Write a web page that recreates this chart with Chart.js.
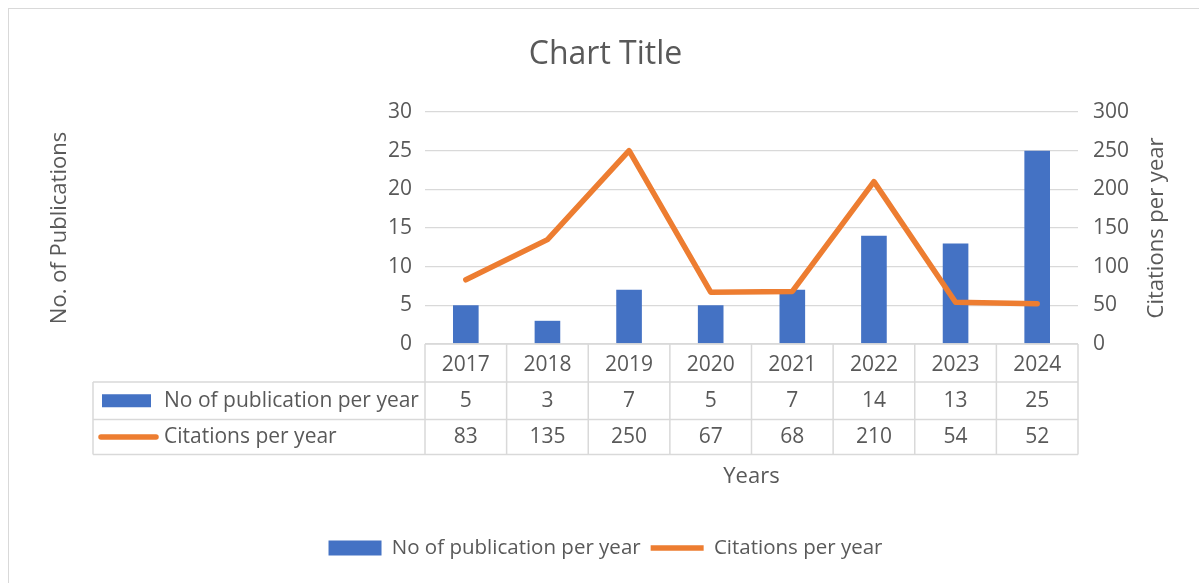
<!DOCTYPE html>
<html>
<head>
<meta charset="utf-8">
<script src="https://cdn.jsdelivr.net/npm/chart.js@4.4.1/dist/chart.umd.min.js"></script>
<style>
  html, body { margin: 0; padding: 0; background: #fff; overflow: hidden; }
  #frame { position: absolute; left: 8px; top: 8px; width: 1400px; height: 800px; border: 1px solid #d9d9d9; }
  #wrap { position: absolute; left: 0; top: 0; width: 1199px; height: 583px; }
</style>
</head>
<body>
<div id="frame"></div>
<div id="wrap"><canvas id="chart"></canvas></div>
<script>
const years = ['2017', '2018', '2019', '2020', '2021', '2022', '2023', '2024'];
const publications = [5, 3, 7, 5, 7, 14, 13, 25];
const citations = [83, 135, 250, 67, 68, 210, 54, 52];
const pubLabel = 'No of publication per year';
const citLabel = 'Citations per year';

const BLUE = '#4472C4';
const ORANGE = '#ED7D31';
const GREY = '#595959';
const LINE = '#d9d9d9';

Chart.defaults.font.family = '"Open Sans"';
Chart.defaults.color = GREY;

// tableau de données sous le graphique + titre de l'axe droit
const dataTable = {
    id: 'dataTable',
    afterDraw(chart) {
        const { ctx, chartArea: a, scales: { x } } = chart;
        const n = years.length;
        const cw = (a.right - a.left) / n;
        const top = a.bottom;
        const r1 = top + 38, r2 = r1 + 37.5, r3 = r2 + 35;
        const tableLeft = 93;

        ctx.save();
        ctx.strokeStyle = LINE;
        ctx.lineWidth = 1.5;
        ctx.beginPath();
        ctx.moveTo(a.left, top); ctx.lineTo(a.right, top);
        [r1, r2, r3].forEach(yy => { ctx.moveTo(tableLeft, yy); ctx.lineTo(a.right, yy); });
        for (let i = 0; i <= n; i++) {
            const xx = a.left + i * cw;
            ctx.moveTo(xx, top); ctx.lineTo(xx, r3);
        }
        ctx.moveTo(tableLeft, r1); ctx.lineTo(tableLeft, r3);
        ctx.stroke();

        ctx.fillStyle = GREY;
        ctx.font = '21px "Open Sans"';
        ctx.textAlign = 'center';
        ctx.textBaseline = 'middle';
        const m1 = (r1 + r2) / 2, m2 = (r2 + r3) / 2;
        years.forEach((y, i) => {
            const px = x.getPixelForValue(i);
            ctx.fillText(String(publications[i]), px, m1);
            ctx.fillText(String(citations[i]), px, m2);
        });

        // clés de légende dans le tableau
        ctx.fillStyle = BLUE;
        ctx.fillRect(tableLeft + 9, m1 - 6.5, 49, 13);
        ctx.strokeStyle = ORANGE;
        ctx.lineWidth = 5.5;
        ctx.lineCap = 'round';
        ctx.beginPath();
        ctx.moveTo(tableLeft + 8, m2); ctx.lineTo(tableLeft + 63, m2);
        ctx.stroke();

        ctx.fillStyle = GREY;
        ctx.textAlign = 'left';
        ctx.fillText(pubLabel, tableLeft + 71, m1);
        ctx.fillText(citLabel, tableLeft + 71, m2);

        // titre de l'axe secondaire, tourné comme dans Excel
        ctx.font = '22px "Open Sans"';
        ctx.textAlign = 'center';
        ctx.translate(1157, (a.top + a.bottom) / 2);
        ctx.rotate(-Math.PI / 2);
        ctx.fillText(citLabel, 0, 0);
        ctx.restore();
    }
};

new Chart(document.getElementById('chart'), {
    type: 'bar',
    data: {
        labels: years,
        datasets: [{
            label: pubLabel,
            data: publications,
            backgroundColor: BLUE,
            yAxisID: 'y',
            barPercentage: 0.314,
            categoryPercentage: 1,
            order: 1
        }, {
            type: 'line',
            label: citLabel,
            data: citations,
            borderColor: ORANGE,
            backgroundColor: ORANGE,
            borderWidth: 5.5,
            borderJoinStyle: 'round',
            borderCapStyle: 'round',
            pointRadius: 0,
            tension: 0,
            yAxisID: 'y1',
            order: 0
        }]
    },
    options: {
        responsive: true,
        maintainAspectRatio: false,
        animation: false,
        layout: { padding: { left: 12, right: 0, top: 0, bottom: 14.75 } },
        plugins: {
            tooltip: { enabled: false },
            title: {
                display: true,
                text: 'Chart Title',
                color: GREY,
                font: { size: 32, weight: 'normal' },
                padding: { top: 35.8, bottom: 37.8 }
            },
            legend: {
                position: 'bottom',
                labels: {
                    color: GREY,
                    font: { size: 20.5 },
                    usePointStyle: true,
                    pointStyleWidth: 53,
                    boxHeight: 15,
                    padding: 10,
                    sort: (a, b) => a.datasetIndex - b.datasetIndex,
                    generateLabels: (chart) => {
                        const items = Chart.defaults.plugins.legend.labels.generateLabels(chart);
                        items.forEach(it => {
                            if (it.datasetIndex === 0) {
                                it.pointStyle = 'rect';
                                it.lineWidth = 0;
                                it.fillStyle = BLUE;
                            } else {
                                it.pointStyle = 'line';
                                it.lineWidth = 5.5;
                                it.strokeStyle = ORANGE;
                            }
                        });
                        return items;
                    }
                }
            }
        },
        scales: {
            x: {
                grid: { display: false },
                border: { display: false },
                ticks: { font: { size: 21 }, padding: 0.5, color: GREY },
                title: { display: true, text: 'Years', font: { size: 22 }, color: GREY, padding: { top: 0, bottom: 37.5 } },
                afterFit: (s) => { s.height = 183.75; }
            },
            y: {
                position: 'left',
                min: 0,
                max: 30,
                ticks: { stepSize: 5, font: { size: 21 }, padding: 13, color: GREY },
                grid: { color: LINE, lineWidth: 1.3, drawTicks: false },
                border: { display: false },
                title: { display: true, text: 'No. of Publications', font: { size: 22 }, color: GREY, padding: { top: 35, bottom: 0 } },
                afterFit: (s) => { s.width = 413; }
            },
            y1: {
                position: 'right',
                min: 0,
                max: 300,
                ticks: { stepSize: 50, font: { size: 21 }, padding: 15, color: GREY },
                grid: { drawOnChartArea: false, drawTicks: false },
                border: { display: false },
                afterFit: (s) => { s.width = 121; }
            }
        }
    },
    plugins: [dataTable]
});
</script>
</body>
</html>
